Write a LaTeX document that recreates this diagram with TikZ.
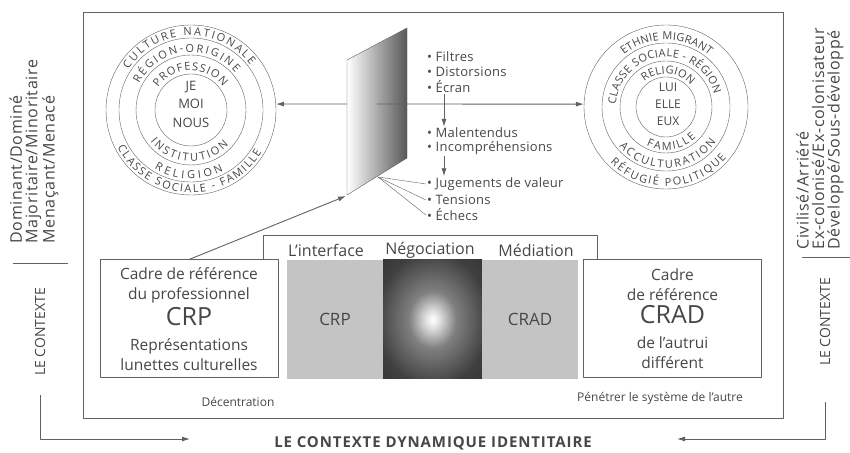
\documentclass[tikz,border=0pt]{standalone}
\usepackage{fontspec}
\setmainfont{Open Sans}
\usepackage{tikz}
\usetikzlibrary{decorations.text,arrows.meta,calc}

\definecolor{ink}{gray}{0.38}
\definecolor{txt}{gray}{0.28}

\pgfdeclareradialshading{spotshade}{\pgfpoint{0bp}{0bp}}{color(0bp)=(white); color(3bp)=(white!90!black); color(12bp)=(black!50); color(28bp)=(black!75); color(50bp)=(black!85)}

\newcommand\ringfont{\fontsize{11}{11}\selectfont}
\newcommand\boxfont{\fontsize{15.5}{20}\selectfont}
\newcommand\bigfont{\fontsize{25}{25}\selectfont}
\newcommand\listfont{\fontsize{13}{14}\selectfont\addfontfeature{LetterSpace=2}}
\newcommand\sidefont{\fontsize{16}{15.5}\selectfont\addfontfeature{LetterSpace=4}}

\tikzset{
  ring/.style={decorate,decoration={text along path,text align=fit to path,text color=txt,text={|\ringfont|#1}}},
  arr/.style={draw=ink,line width=0.9pt,-{Latex[length=8pt,width=5pt]}},
  cadre/.style={draw=ink,line width=1pt,fill=white,align=center,text=txt,font=\boxfont,minimum width=178pt,minimum height=118pt,inner sep=0pt},
  panel/.style={minimum width=96pt,minimum height=119pt,inner sep=0pt,text=txt,font=\fontsize{17}{17}\selectfont},
  hdr/.style={text=txt,font=\fontsize{16}{16}\selectfont},
  item/.style={anchor=west,inner sep=1pt,text=txt,font=\listfont},
  small/.style={text=txt,font=\fontsize{12}{12}\selectfont},
  side/.style={rotate=90,align=left,text=txt,font=\sidefont},
}

\begin{document}
\begin{tikzpicture}[x=1pt,y=1pt,line join=round]
    \useasboundingbox (0,0) rectangle (850,452);
    \draw[ink,line width=1pt] (83,34) rectangle (783,439);

    \begin{scope}[shift={(191,342)}]
      \node[circle,draw=ink,minimum size=170pt,inner sep=0pt] (lout) at (0,0) {};
      \foreach \r in {72,55,36} \draw[ink] (0,0) circle (\r);
      \path[ring=CULTURE NATIONALE] (147:74.5) arc (147:37:74.5);
      \path[ring=RÉGION-ORIGINE] (153:58) arc (153:40:58);
      \path[ring=PROFESSION] (146:39.5) arc (146:36:39.5);
      \path[ring=INSTITUTION] (218:51.5) arc (218:317:51.5);
      \path[ring=RELIGION] (238:69) arc (238:298:69);
      \path[ring=CLASSE SOCIALE - FAMILLE] (207:82.5) arc (207:329:82.5);
      \node[align=center,text=txt,font=\fontsize{13}{18.5}\selectfont] (moi) at (0,6) {JE\\MOI\\NOUS};
    \end{scope}

    \begin{scope}[shift={(666,345)}]
      \node[circle,draw=ink,minimum size=164pt,inner sep=0pt] (rout) at (0,0) {};
      \foreach \r in {64,46,30} \draw[ink] (0,0) circle (\r);
      \path[ring=ETHNIE MIGRANT] (129:67) arc (129:50:67);
      \path[ring=CLASSE SOCIALE - RÉGION] (177:50) arc (177:15:50);
      \path[ring=RELIGION] (131:33) arc (131:41:33);
      \path[ring=FAMILLE] (243:43) arc (243:314:43);
      \path[ring=ACCULTURATION] (220:61) arc (220:325:61);
      \path[ring=RÉFUGIÉ POLITIQUE] (225:79) arc (225:320:79);
      \node[align=center,text=txt,font=\fontsize{12}{17}\selectfont] (lui) at (2,3) {LUI\\ELLE\\EUX};
    \end{scope}

    \shade[draw=ink,left color=white,middle color=black!10,right color=black!66] (347,392) -- (407,424) -- (407,294) -- (347,257) -- cycle;
    \coordinate (scrL) at (347,348);
    \coordinate (scrR) at (377,348);
    \coordinate (scrB) at (378,275);
    \coordinate (scrC) at (346,256);

    \draw[arr] (scrL) -- (lout.4);
    \draw[arr] (scrR) -- (rout.178);

    \node[item] (filtres) at (426,395) {• Filtres};
    \node[item] (distors) at (426,380) {• Distorsions};
    \node[item] (ecran) at (426,365) {• Écran};
    \node[item] (malent) at (426,319) {• Malentendus};
    \node[item] (incomp) at (426,304) {• Incompréhensions};
    \node[item] (jugem) at (426,268) {• Jugements de valeur};
    \node[item] (tens) at (426,252) {• Tensions};
    \node[item] (echecs) at (426,237) {• Échecs};
    \draw[arr] ($(ecran.south west)+(18,0)$) -- ($(malent.north west)+(18,0)$);
    \draw[arr] ($(incomp.south west)+(18,0)$) -- ($(jugem.north west)+(18,0)$);
    \draw[ink] (scrB) -- (jugem.west);
    \draw[ink] (scrB) -- (tens.west);
    \draw[ink] (scrB) -- (echecs.west);

    \node[panel,fill=black!23] (pcrp) at (335,132.5) {CRP};
    \node[panel,shading=spotshade,minimum width=99pt] (nego) at (432.5,132.5) {};
    \node[panel,fill=black!23] (pcrad) at (530,132.5) {CRAD};

    \node[cadre] (lbox) at (189,133) {Cadre de référence\\du professionnel\\[3pt]{\bigfont CRP}\\[5pt]Représentations\\lunettes culturelles};
    \node[cadre] (rbox) at (672.5,133) {Cadre\\de référence\\[3pt]{\bigfont CRAD}\\[5pt]de l’autrui\\différent};
    \draw[ink,line width=1pt] (lbox.north -| 263,0) |- (597,216) -- (rbox.north -| 597,0);
    \node[hdr] (interf) at (326,202) {L’interface};
    \node[hdr] (negoc) at (430,202) {Négociation};
    \node[hdr] (media) at (536,202) {Médiation};

    \draw[arr] (lbox.north) -- (scrC);

    \node[small] (decent) at (238,50) {Décentration};
    \node[small] (penet) at (660,54) {Pénétrer le système de l’autre};

    \node[side,anchor=west] (oppg) at (34,205) {Dominant/Dominé\\Majoritaire/Minoritaire\\Menaçant/Menacé};
    \draw[ink] (13,189) -- (68,189);
    \node[side,font=\fontsize{14}{14}\selectfont] (lctx) at (40,120) {LE CONTEXTE};
    \node[side,anchor=west] (oppd) at (820,199) {Civilisé/Arriéré\\Ex-colonisé/Ex-colonisateur\\Développé/Sous-développé};
    \draw[ink] (802,195) -- (850,195);
    \node[side,font=\fontsize{14}{14}\selectfont] (rctx) at (825,130) {LE CONTEXTE};

    \coordinate (ltip) at (190,13);
    \coordinate (rtip) at (677,13);
    \draw[arr] ([yshift=-16pt]lctx.west) |- (ltip);
    \draw[arr] ([yshift=-33pt]rctx.west) |- (rtip);
    \node[text=txt,font=\fontsize{15}{15}\selectfont\bfseries\addfontfeature{LetterSpace=6}] (titre) at (433,9) {LE CONTEXTE DYNAMIQUE IDENTITAIRE};
\end{tikzpicture}
\end{document}
